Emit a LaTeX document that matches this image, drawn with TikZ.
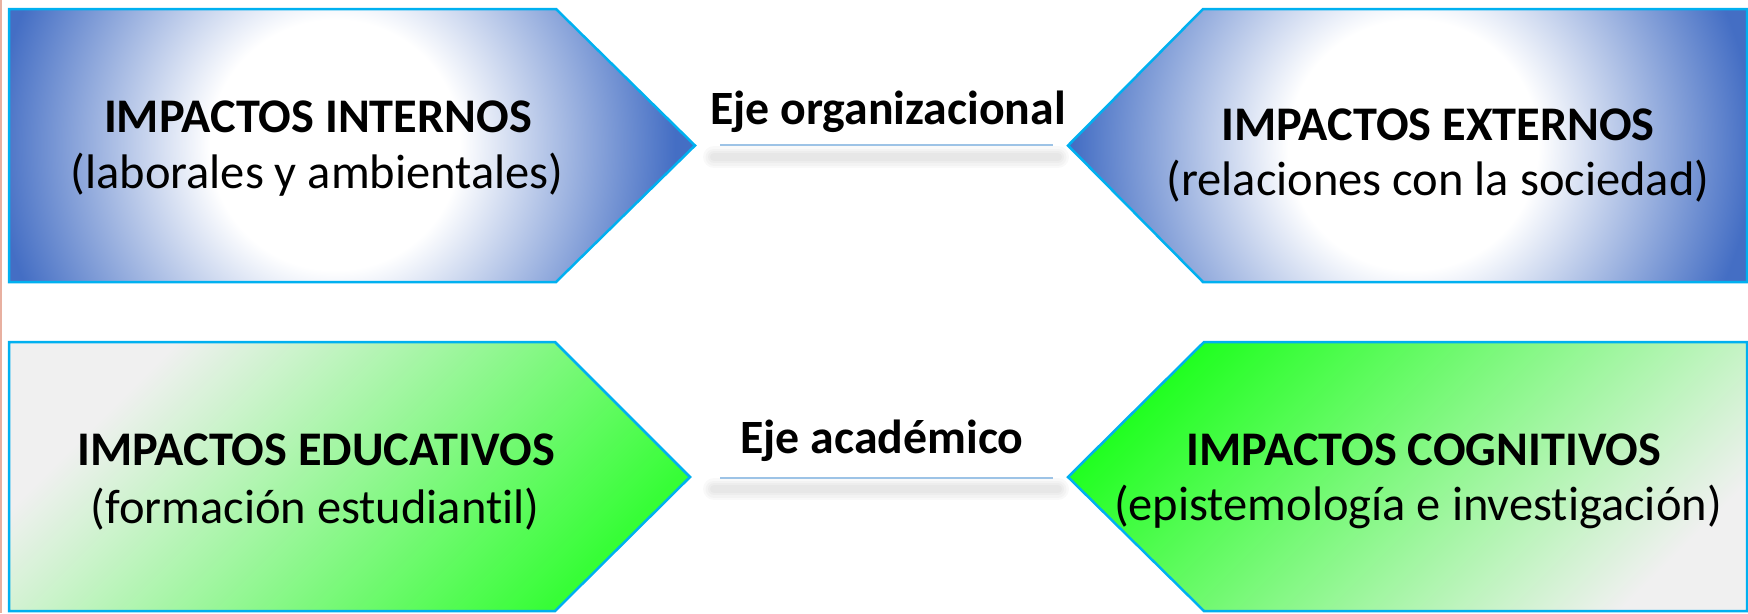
\documentclass[tikz,border=0pt]{standalone}
\usepackage{fontspec}
\setmainfont{Carlito}[Ligatures=NoCommon]
\definecolor{impblue}{RGB}{68,110,196}
\definecolor{edgecyan}{RGB}{0,176,240}
\definecolor{eduGrey}{RGB}{240,240,240}
\definecolor{eduGreen}{RGB}{34,255,34}
\definecolor{axisline}{RGB}{157,195,230}
\definecolor{artifact}{RGB}{232,176,160}
\pgfdeclareradialshading{bluerad}{\pgfpoint{0bp}{0bp}}{color(0bp)=(white); color(4.6bp)=(white); color(12.5bp)=(impblue); color(50bp)=(impblue)}
\pgfdeclarehorizontalshading{edushade}{100bp}{color(0bp)=(eduGrey); color(27bp)=(eduGrey); color(80bp)=(eduGreen); color(100bp)=(eduGreen)}
\pgfdeclarehorizontalshading{cogshade}{100bp}{color(0bp)=(eduGreen); color(25bp)=(eduGreen); color(76bp)=(eduGrey); color(100bp)=(eduGrey)}
\tikzset{
  boxedge/.style={draw=edgecyan, line width=0.25mm, line join=miter},
  titletext/.style={anchor=base, inner sep=0pt, font=\fontsize{13.75}{16}\selectfont\bfseries},
  subtext/.style={anchor=base, inner sep=0pt, font=\fontsize{13.8}{16}\selectfont},
  axistext/.style={anchor=base, inner sep=0pt, font=\fontsize{13.6}{16}\selectfont\bfseries},
  axisrule/.style={draw=axisline, line width=0.15mm},
  axisshadow/.style={draw=black, opacity=0.022, line cap=round},
}
\begin{document}
\begin{tikzpicture}[x=0.1mm, y=-0.1mm]
\useasboundingbox (0,0) rectangle (1748,613);
\fill[white] (0,0) rectangle (1748,613);
\draw[artifact, line width=0.15mm] (1,0) -- (1,613);

% ---------- top left: IMPACTOS INTERNOS
\begin{scope}
  \clip (9,9) -- (556,9) -- (695,145.5) -- (556,282) -- (9,282) -- cycle;
  \shade[shading=bluerad] (-345,-535) rectangle (1015,825);
\end{scope}
\draw[boxedge] (9,9) -- (556,9) -- (695,145.5) -- (556,282) -- (9,282) -- cycle;

% ---------- top right: IMPACTOS EXTERNOS
\begin{scope}
  \clip (1068,145.5) -- (1203,9) -- (1747,9) -- (1747,282) -- (1203,282) -- cycle;
  \shade[shading=bluerad] (733,-535) rectangle (2093,825);
\end{scope}
\draw[boxedge] (1068,145.5) -- (1203,9) -- (1747,9) -- (1747,282) -- (1203,282) -- cycle;

% ---------- bottom left: IMPACTOS EDUCATIVOS
\shade[shading=edushade, shading angle=-45] (9,342) -- (555,342) -- (690,477) -- (555,611) -- (9,611) -- cycle;
\draw[boxedge] (9,342) -- (555,342) -- (690,477) -- (555,611) -- (9,611) -- cycle;

% ---------- bottom right: IMPACTOS COGNITIVOS
\shade[shading=cogshade, shading angle=-45] (1068,477) -- (1204,342) -- (1747,342) -- (1747,611) -- (1204,611) -- cycle;
\draw[boxedge] (1068,477) -- (1204,342) -- (1747,342) -- (1747,611) -- (1204,611) -- cycle;

% ---------- texts
\node[titletext] (tl1) at (318,132) {IMPACTOS INTERNOS};
\node[subtext]   (tl2) at (317,188) {(laborales y ambientales)};
\node[titletext] (tr1) at (1438,140) {IMPACTOS EXTERNOS};
\node[subtext]   (tr2) at (1438,195) {(relaciones con la sociedad)};
\node[titletext] (bl1) at (316,465) {IMPACTOS EDUCATIVOS};
\node[subtext]   (bl2) at (315,523) {(formación estudiantil)};
\node[titletext] (br1) at (1424,465) {IMPACTOS COGNITIVOS};
\node[subtext]   (br2) at (1418,520) {(epistemología e investigación)};

% ---------- axes
\node[axistext] (org) at (888,124) {Eje organizacional};
\coordinate (orgA) at (720,145);
\coordinate (orgB) at (1053,145);
\coordinate (orgSA) at (714,157);
\coordinate (orgSB) at (1058,157);
\foreach \w in {2.2,1.7,1.2,0.8} {\draw[axisshadow, line width=\w mm] (orgSA) -- (orgSB);}
\draw[axisrule] (orgA) -- (orgB);

\node[axistext] (aca) at (882,453) {Eje académico};
\coordinate (acaA) at (720,478);
\coordinate (acaB) at (1053,478);
\coordinate (acaSA) at (714,489);
\coordinate (acaSB) at (1058,489);
\foreach \w in {2.2,1.7,1.2,0.8} {\draw[axisshadow, line width=\w mm] (acaSA) -- (acaSB);}
\draw[axisrule] (acaA) -- (acaB);
\end{tikzpicture}
\end{document}
